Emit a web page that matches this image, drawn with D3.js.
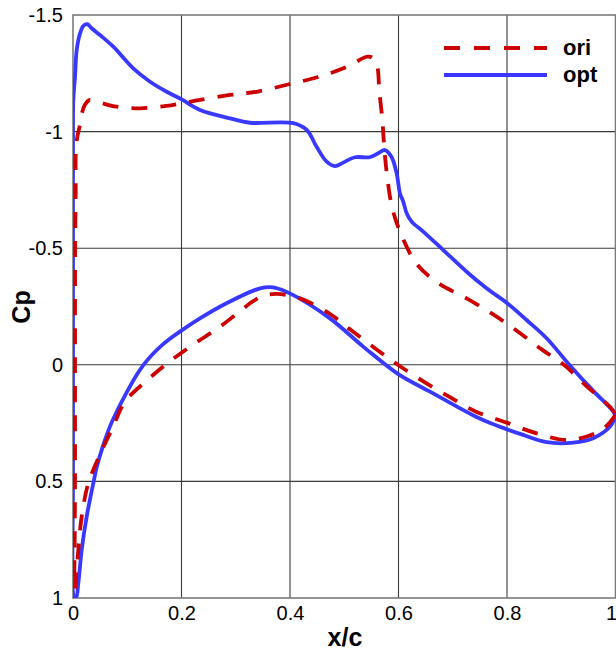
<!DOCTYPE html>
<html>
<head>
<meta charset="utf-8">
<script src="https://cdn.jsdelivr.net/npm/d3@7"></script>
<style>
  html, body { margin: 0; padding: 0; background: #fff; }
  svg { display: block; }
  text { font-family: "Liberation Sans", Arial, sans-serif; }
</style>
</head>
<body>
<svg id="chart" width="616" height="651"></svg>
<script>
// ---------- data ----------
const xTicks = [0, 0.2, 0.4, 0.6, 0.8, 1];
const yTicks = [-1.5, -1, -0.5, 0, 0.5, 1];
const xTickLabels = ["0", "0.2", "0.4", "0.6", "0.8", "1"];
const yTickLabels = ["-1.5", "-1", "-0.5", "0", "0.5", "1"];
const seriesNames = ["ori", "opt"];

// opt: closed loop TE -> lower surface -> LE -> upper surface -> TE   [x/c, Cp]
const optX = [1.0, 0.99, 0.959, 0.922, 0.873, 0.824, 0.769, 0.744, 0.707, 0.658, 0.5995, 0.535, 0.4736, 0.406, 0.369, 0.345, 0.283, 0.234, 0.197, 0.175, 0.160, 0.145, 0.130, 0.115, 0.099, 0.085, 0.068, 0.055, 0.0437, 0.0374, 0.0252, 0.016, 0.0098, 0.0055, 0.002, 0.0, 0.0, 0.0, 0.0, 0.0, 0.0006, 0.0037, 0.0068, 0.0129, 0.019, 0.0264, 0.0344, 0.0498, 0.0743, 0.111, 0.142, 0.1727, 0.2003, 0.234, 0.2893, 0.326, 0.406, 0.4307, 0.449, 0.4676, 0.483, 0.498, 0.5197, 0.547, 0.5627, 0.575, 0.587, 0.5966, 0.6027, 0.6087, 0.615, 0.6242, 0.6456, 0.6825, 0.7256, 0.7624, 0.8004, 0.8361, 0.873, 0.9128, 0.959, 0.9958, 1.0];
const optCp = [0.222, 0.265, 0.315, 0.334, 0.332, 0.296, 0.250, 0.224, 0.178, 0.115, 0.040, -0.078, -0.199, -0.299, -0.332, -0.328, -0.264, -0.199, -0.142, -0.105, -0.076, -0.041, 0.0, 0.052, 0.118, 0.18, 0.265, 0.35, 0.44, 0.508, 0.651, 0.794, 0.937, 1.0, 1.0, 0.98, 0.5, 0.0, -0.5, -1.0, -1.136, -1.235, -1.35, -1.42, -1.453, -1.461, -1.443, -1.414, -1.364, -1.271, -1.214, -1.171, -1.138, -1.093, -1.057, -1.038, -1.036, -1.007, -0.935, -0.871, -0.852, -0.867, -0.890, -0.890, -0.907, -0.921, -0.892, -0.821, -0.735, -0.700, -0.650, -0.614, -0.571, -0.492, -0.399, -0.328, -0.264, -0.192, -0.114, -0.006, 0.112, 0.200, 0.220];

// ori: closed loop TE -> lower surface -> LE -> upper surface -> TE
const oriX = [1.0, 0.98, 0.95, 0.9098, 0.8546, 0.7993, 0.744, 0.6948, 0.6487, 0.5995, 0.5566, 0.5105, 0.472, 0.4184, 0.3754, 0.35, 0.33, 0.317, 0.2697, 0.223, 0.1775, 0.1358, 0.0958, 0.074, 0.0485, 0.0282, 0.016, 0.0098, 0.0055, 0.0035, 0.0025, 0.003, 0.0037, 0.0037, 0.004, 0.005, 0.0055, 0.009, 0.012, 0.016, 0.022, 0.03, 0.04, 0.053, 0.08, 0.1234, 0.1725, 0.2, 0.234, 0.2893, 0.3428, 0.398, 0.4503, 0.5044, 0.5413, 0.5505, 0.5597, 0.5627, 0.5645, 0.570, 0.5737, 0.5793, 0.589, 0.6073, 0.635, 0.6764, 0.7256, 0.7731, 0.8192, 0.8638, 0.905, 0.946, 0.9897, 1.0];
const oriCp = [0.215, 0.27, 0.305, 0.3225, 0.294, 0.248, 0.202, 0.139, 0.075, 0.001, -0.071, -0.152, -0.221, -0.285, -0.304, -0.295, -0.27, -0.247, -0.161, -0.089, -0.013, 0.068, 0.158, 0.265, 0.391, 0.508, 0.651, 0.794, 0.909, 0.96, 0.93, 0.8, 0.5, 0.0, -0.5, -0.75, -0.93, -0.99, -1.02, -1.075, -1.115, -1.135, -1.13, -1.122, -1.107, -1.1, -1.11, -1.121, -1.136, -1.157, -1.173, -1.203, -1.233, -1.277, -1.321, -1.319, -1.295, -1.25, -1.178, -1.057, -0.933, -0.804, -0.667, -0.546, -0.428, -0.346, -0.285, -0.218, -0.144, -0.066, 0.0, 0.09, 0.18, 0.212];

// ---------- layout ----------
const svg = d3.select("#chart");
const mLeft = 73, mRight = 615.5, mTop = 15, mBottom = 598;
const x = d3.scaleLinear().domain([0, 1]).range([mLeft, mRight]);
const y = d3.scaleLinear().domain([-1.5, 1]).range([mTop, mBottom]);

svg.append("rect").attr("width", 616).attr("height", 651).attr("fill", "#fff");

// grid
const grid = svg.append("g");
grid.selectAll("line.vx").data(xTicks.slice(1, -1)).join("line")
  .attr("x1", d => x(d)).attr("x2", d => x(d))
  .attr("y1", mTop).attr("y2", mBottom)
  .attr("stroke", "#3a3a3a").attr("stroke-width", 1.1);
grid.selectAll("line.hy").data(yTicks.slice(1, -1)).join("line")
  .attr("y1", d => y(d)).attr("y2", d => y(d))
  .attr("x1", mLeft).attr("x2", mRight)
  .attr("stroke", "#3a3a3a").attr("stroke-width", 1.1);

// frame
svg.append("rect")
  .attr("x", mLeft).attr("y", mTop)
  .attr("width", mRight - mLeft).attr("height", mBottom - mTop)
  .attr("fill", "none").attr("stroke", "#7a7a7a").attr("stroke-width", 1.6);

// axes (labels only)
const xAxis = svg.append("g").attr("transform", `translate(0,${mBottom})`)
  .call(d3.axisBottom(x).tickValues(xTicks).tickSize(0).tickPadding(8)
    .tickFormat((d, i) => xTickLabels[i]));
const yAxis = svg.append("g").attr("transform", `translate(${mLeft},0)`)
  .call(d3.axisLeft(y).tickValues(yTicks).tickSize(0).tickPadding(10)
    .tickFormat((d, i) => yTickLabels[i]));
[xAxis, yAxis].forEach(g => {
  g.select(".domain").remove();
  g.selectAll("text").attr("font-size", 20).attr("fill", "#000")
    .attr("font-family", "'Liberation Sans', Arial, sans-serif");
});
// keep the last x label inside the window
xAxis.selectAll(".tick text").filter(d => d === 1).attr("text-anchor", "end").attr("dx", 1);

// clip
svg.append("clipPath").attr("id", "plotclip").append("rect")
  .attr("x", mLeft).attr("y", mTop).attr("width", mRight - mLeft + 2).attr("height", mBottom - mTop);

const line = d3.line()
  .x(d => x(d[0])).y(d => y(d[1]))
  .curve(d3.curveCatmullRom.alpha(0.5));

const optData = optX.map((v, i) => [v, optCp[i]]);
const oriData = oriX.map((v, i) => [v, oriCp[i]]);

const curves = svg.append("g").attr("clip-path", "url(#plotclip)");
curves.append("path").datum(optData).attr("d", line)
  .attr("fill", "none").attr("stroke", "#3838ff").attr("stroke-width", 3.8)
  .attr("stroke-linejoin", "round");
curves.append("path").datum(oriData).attr("d", line)
  .attr("fill", "none").attr("stroke", "#cc0000").attr("stroke-width", 3.8)
  .attr("stroke-dasharray", "16,13");

// legend
const legend = svg.append("g");
const legY = [48, 75];
const legColors = ["#cc0000", "#3838ff"];
const legDash = ["16,14", null];
seriesNames.forEach((name, i) => {
  legend.append("line")
    .attr("x1", 444).attr("x2", 547).attr("y1", legY[i]).attr("y2", legY[i])
    .attr("stroke", legColors[i]).attr("stroke-width", 4)
    .attr("stroke-dasharray", legDash[i]);
  legend.append("text").attr("x", 563).attr("y", legY[i] + 7)
    .attr("font-size", 22).attr("font-weight", "bold").attr("fill", "#000")
    .text(name);
});

// axis titles
svg.append("text").attr("x", 345).attr("y", 646)
  .attr("text-anchor", "middle").attr("font-size", 25).attr("font-weight", "bold")
  .text("x/c");
svg.append("text").attr("transform", "translate(30,307) rotate(-90)")
  .attr("text-anchor", "middle").attr("font-size", 25).attr("font-weight", "bold")
  .text("Cp");
</script>
</body>
</html>
